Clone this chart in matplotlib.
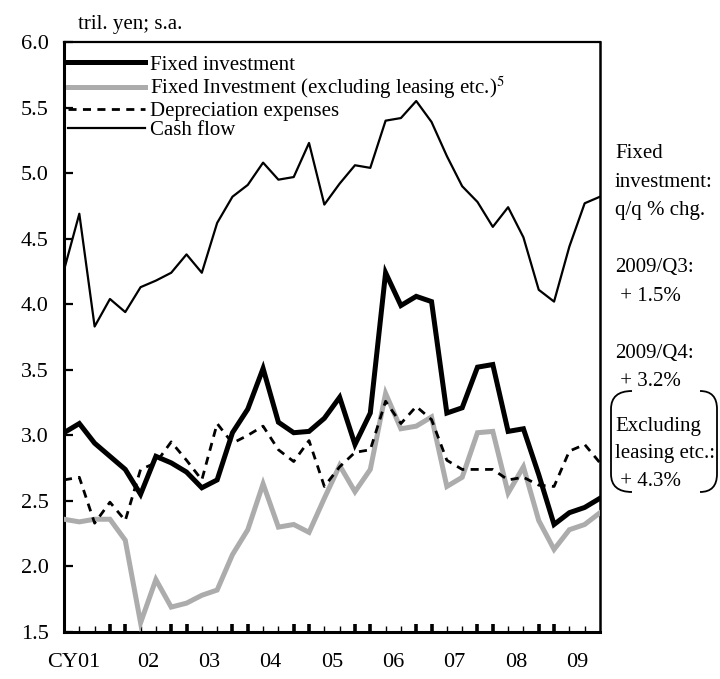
import matplotlib.pyplot as plt
import matplotlib as mpl
import numpy as np
from matplotlib.path import Path
from matplotlib.patches import PathPatch

mpl.use("Agg")
mpl.rcParams["font.family"] = ["Liberation Serif", "DejaVu Serif"]
mpl.rcParams["mathtext.fontset"] = "stix"
fontsize = 15

# quarterly data, CY2001/Q1 .. CY2009/Q4 (tril. yen, s.a.)
years = ["CY01", "02", "03", "04", "05", "06", "07", "08", "09"]
fixed_inv = [3.02, 3.09, 2.94, 2.84, 2.74, 2.55, 2.84, 2.79, 2.72, 2.60,
             2.66, 3.02, 3.20, 3.51, 3.10, 3.02, 3.03, 3.13, 3.29, 2.93,
             3.17, 4.24, 3.99, 4.06, 4.02, 3.17, 3.21, 3.52, 3.54, 3.03,
             3.05, 2.70, 2.32, 2.41, 2.45, 2.52]
fixed_inv_ex = [2.36, 2.34, 2.36, 2.36, 2.20, 1.57, 1.90, 1.69, 1.72, 1.78,
                1.82, 2.09, 2.28, 2.63, 2.30, 2.32, 2.26, 2.52, 2.77, 2.57,
                2.74, 3.32, 3.05, 3.07, 3.14, 2.61, 2.68, 3.02, 3.03, 2.56,
                2.76, 2.35, 2.13, 2.28, 2.32, 2.41]
depreciation = [2.66, 2.68, 2.33, 2.49, 2.35, 2.74, 2.79, 2.95, 2.81, 2.66,
                3.09, 2.94, 3.00, 3.07, 2.89, 2.80, 2.96, 2.61, 2.76, 2.87,
                2.89, 3.26, 3.09, 3.22, 3.12, 2.81, 2.74, 2.74, 2.74, 2.66,
                2.68, 2.62, 2.61, 2.88, 2.93, 2.79]
cash_flow = [4.26, 4.69, 3.83, 4.04, 3.94, 4.13, 4.18, 4.24, 4.38, 4.24,
             4.62, 4.82, 4.91, 5.08, 4.95, 4.97, 5.23, 4.76, 4.92, 5.06,
             5.04, 5.40, 5.42, 5.55, 5.39, 5.13, 4.90, 4.78, 4.59, 4.74,
             4.51, 4.11, 4.02, 4.44, 4.77, 4.82]
side_notes = ["Fixed", "investment:", "q/q % chg.", "", "2009/Q3:", " + 1.5%",
              "", "2009/Q4:", " + 3.2%"]
bracket_notes = ["Excluding", "leasing etc.:", " + 4.3%"]

W, H = 720, 679
fig = plt.figure(figsize=(W / 100, H / 100), dpi=100)
ax = fig.add_axes([64 / W, 1 - 632 / H, (600 - 64) / W, (632 - 42) / H])

x = np.arange(len(cash_flow))
ax.plot(x, fixed_inv, color="black", linewidth=3.6, solid_joinstyle="miter",
        label="Fixed investment", zorder=5)
ax.plot(x, fixed_inv_ex, color="#acacac", linewidth=3.6, solid_joinstyle="miter",
        label="Fixed Investment (excluding leasing etc.)$^5$", zorder=3)
ax.plot(x, depreciation, color="black", linewidth=2.0, dashes=(2.9, 2.3),
        label="Depreciation expenses", zorder=4)
ax.plot(x, cash_flow, color="black", linewidth=1.6, label="Cash flow", zorder=4)

ax.set_xlim(0, 35)
ax.set_ylim(1.5, 6.0)
ax.set_yticks(np.arange(1.5, 6.01, 0.5))
ax.set_yticklabels(["{:.1f}".format(v) for v in np.arange(1.5, 6.01, 0.5)],
                   fontsize=fontsize + 1)
ax.tick_params(axis="y", direction="in", length=6.5, width=1.6, pad=11)

# quarter ticks: thick around the turn of the year, thin otherwise
thick = [i for i in range(1, 35) if i % 4 in (0, 3)]
thin = [i for i in range(1, 35) if i % 4 in (1, 2)]
ax.set_xticks(thick)
ax.set_xticks(thin, minor=True)
ax.set_xticklabels([])
ax.tick_params(axis="x", which="major", direction="in", length=6, width=2.6)
ax.tick_params(axis="x", which="minor", direction="in", length=4.5, width=1.0)

for k, yr in enumerate(years):
    if k == 0:
        ax.text(2.35, -0.051, yr, transform=ax.get_xaxis_transform(),
                ha="right", va="center", fontsize=fontsize + 1)
    else:
        ax.text(4 * k + 1.5, -0.051, yr, transform=ax.get_xaxis_transform(),
                ha="center", va="center", fontsize=fontsize + 1)

ax.spines["left"].set_linewidth(2.2)
ax.spines["bottom"].set_linewidth(2.2)
ax.spines["right"].set_linewidth(1.8)
ax.spines["top"].set_linewidth(1.6)

ax.legend(loc="upper left", bbox_to_anchor=(0.008, 0.978), frameon=False,
          fontsize=fontsize, handlelength=3.7, handletextpad=0.2,
          labelspacing=0.0, borderpad=0, borderaxespad=0)

fig.text(78 / W, 1 - 25 / H, "tril. yen; s.a.", fontsize=fontsize,
         ha="left", va="center")

# notes on the right
y0 = 154
for k, t in enumerate(side_notes):
    if t:
        fig.text(615 / W, 1 - (y0 + 28.5 * k) / H, t, fontsize=fontsize,
                 ha="left", va="center")
for k, t in enumerate(bracket_notes):
    fig.text(615 / W, 1 - (426 + 27.5 * k) / H, t, fontsize=fontsize,
             ha="left", va="center")


def px(xp, yp):
    return (xp / W, 1 - yp / H)


top, bot = 391, 492
verts_l = [px(632, top), px(611, top), px(611, top + 18), px(611, top + 18),
           px(611, bot - 18), px(611, bot - 18), px(611, bot), px(632, bot)]
verts_r = [px(700, top), px(717, top), px(717, top + 18), px(717, top + 18),
           px(717, bot - 18), px(717, bot - 18), px(717, bot), px(700, bot)]
codes = [Path.MOVETO, Path.CURVE3, Path.CURVE3, Path.MOVETO, Path.LINETO,
         Path.MOVETO, Path.CURVE3, Path.CURVE3]
for v in (verts_l, verts_r):
    fig.add_artist(PathPatch(Path(v, codes), transform=fig.transFigure,
                             fill=False, edgecolor="black", linewidth=1.3))

plt.savefig("out.png", dpi=100)
plt.close()
